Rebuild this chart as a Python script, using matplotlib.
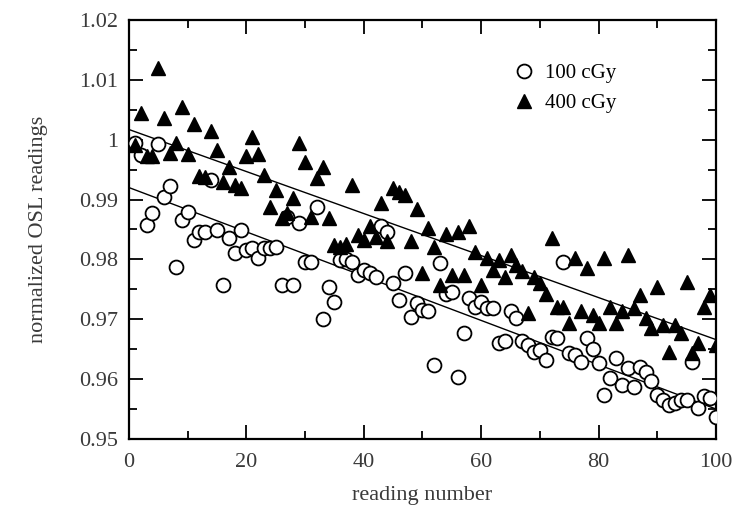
import matplotlib

matplotlib.use("Agg")
import matplotlib.pyplot as plt
import numpy as np
from matplotlib.ticker import FuncFormatter, MultipleLocator

plt.rcParams["font.family"] = ["Liberation Serif", "DejaVu Serif"]

reading = np.arange(1, 101)

# normalized OSL readings
osl_100cgy = [
    0.9995, 0.9975, 0.9858, 0.9877, 0.9993, 0.9905, 0.9923, 0.9788, 0.9866, 0.9880,
    0.9832, 0.9846, 0.9846, 0.9933, 0.9849, 0.9757, 0.9835, 0.9810, 0.9849, 0.9816,
    0.9819, 0.9802, 0.9819, 0.9819, 0.9820, 0.9757, 0.9871, 0.9757, 0.9860, 0.9796,
    0.9796, 0.9888, 0.9700, 0.9754, 0.9728, 0.9799, 0.9800, 0.9796, 0.9774, 0.9782,
    0.9777, 0.9771, 0.9855, 0.9846, 0.9761, 0.9732, 0.9777, 0.9704, 0.9727, 0.9716,
    0.9713, 0.9624, 0.9794, 0.9743, 0.9745, 0.9604, 0.9677, 0.9735, 0.9721, 0.9729,
    0.9718, 0.9718, 0.9660, 0.9663, 0.9713, 0.9702, 0.9663, 0.9657, 0.9646, 0.9648,
    0.9632, 0.9671, 0.9668, 0.9796, 0.9643, 0.9640, 0.9629, 0.9668, 0.9651, 0.9627,
    0.9574, 0.9601, 0.9635, 0.9590, 0.9618, 0.9587, 0.9621, 0.9612, 0.9596, 0.9574,
    0.9565, 0.9557, 0.9560, 0.9565, 0.9565, 0.9629, 0.9551, 0.9571, 0.9568, 0.9537,
]
osl_400cgy = [
    0.9991, 1.0045, 0.9972, 0.9973, 1.0119, 1.0036, 0.9978, 0.9994, 1.0054, 0.9976,
    1.0027, 0.9939, 0.9938, 1.0015, 0.9983, 0.9930, 0.9955, 0.9924, 0.9919, 0.9973,
    1.0004, 0.9976, 0.9941, 0.9888, 0.9916, 0.9869, 0.9877, 0.9902, 0.9994, 0.9962,
    0.9871, 0.9936, 0.9955, 0.9869, 0.9824, 0.9821, 0.9826, 0.9924, 0.9841, 0.9832,
    0.9855, 0.9838, 0.9894, 0.9830, 0.9919, 0.9913, 0.9908, 0.9830, 0.9885, 0.9777,
    0.9852, 0.9821, 0.9757, 0.9843, 0.9774, 0.9846, 0.9774, 0.9855, 0.9813, 0.9757,
    0.9802, 0.9782, 0.9799, 0.9771, 0.9807, 0.9790, 0.9780, 0.9710, 0.9771, 0.9760,
    0.9743, 0.9835, 0.9721, 0.9721, 0.9693, 0.9802, 0.9713, 0.9785, 0.9707, 0.9693,
    0.9802, 0.9721, 0.9693, 0.9713, 0.9807, 0.9718, 0.9741, 0.9702, 0.9685, 0.9754,
    0.9690, 0.9646, 0.9690, 0.9677, 0.9763, 0.9643, 0.9660, 0.9721, 0.9741, 0.9657,
]

# linear fits as drawn (value at reading 0 and 100)
fit_x = [0, 100]
fit_100cgy = [0.9920, 0.9550]
fit_400cgy = [1.0017, 0.9666]

fig = plt.figure(figsize=(7.43, 5.17), dpi=100)
ax = fig.add_axes([0.1736, 0.151, 0.79, 0.8103])

ax.plot(reading, osl_100cgy, "o", ms=10, mfc="white", mec="black", mew=1.3,
        label="100 cGy", zorder=3)
ax.plot(reading, osl_400cgy, "^", ms=10.5, mfc="black", mec="black", mew=1.0,
        label="400 cGy", zorder=3)
ax.plot(fit_x, fit_100cgy, color="black", lw=1.0, zorder=2)
ax.plot(fit_x, fit_400cgy, color="black", lw=1.0, zorder=2)

ax.set_xlim(0, 100)
ax.set_ylim(0.95, 1.02)
ax.xaxis.set_major_locator(MultipleLocator(20))
ax.xaxis.set_minor_locator(MultipleLocator(10))
ax.yaxis.set_major_locator(MultipleLocator(0.01))
ax.yaxis.set_minor_locator(MultipleLocator(0.005))
ax.yaxis.set_major_formatter(FuncFormatter(lambda v, p: f"{v:g}"))

ax.tick_params(which="both", direction="in", top=True, right=True,
               labelsize=16, labelcolor="#3a3a3a", colors="black")
ax.tick_params(axis="x", pad=10)
ax.tick_params(axis="y", pad=8)
ax.tick_params(which="major", length=10, width=1.3)
ax.tick_params(which="minor", length=6, width=1.3)
for sp in ax.spines.values():
    sp.set_linewidth(1.6)

ax.set_xlabel("reading number", fontsize=16, labelpad=10, color="#3a3a3a")
ax.set_ylabel("normalized OSL readings", fontsize=16, labelpad=22, color="#3a3a3a")

ax.legend(loc="upper right", bbox_to_anchor=(0.855, 0.93), frameon=False,
          fontsize=15, handlelength=1.0, handletextpad=0.5,
          labelspacing=0.5, borderaxespad=0.3)

fig.savefig("out.png", dpi=100)
